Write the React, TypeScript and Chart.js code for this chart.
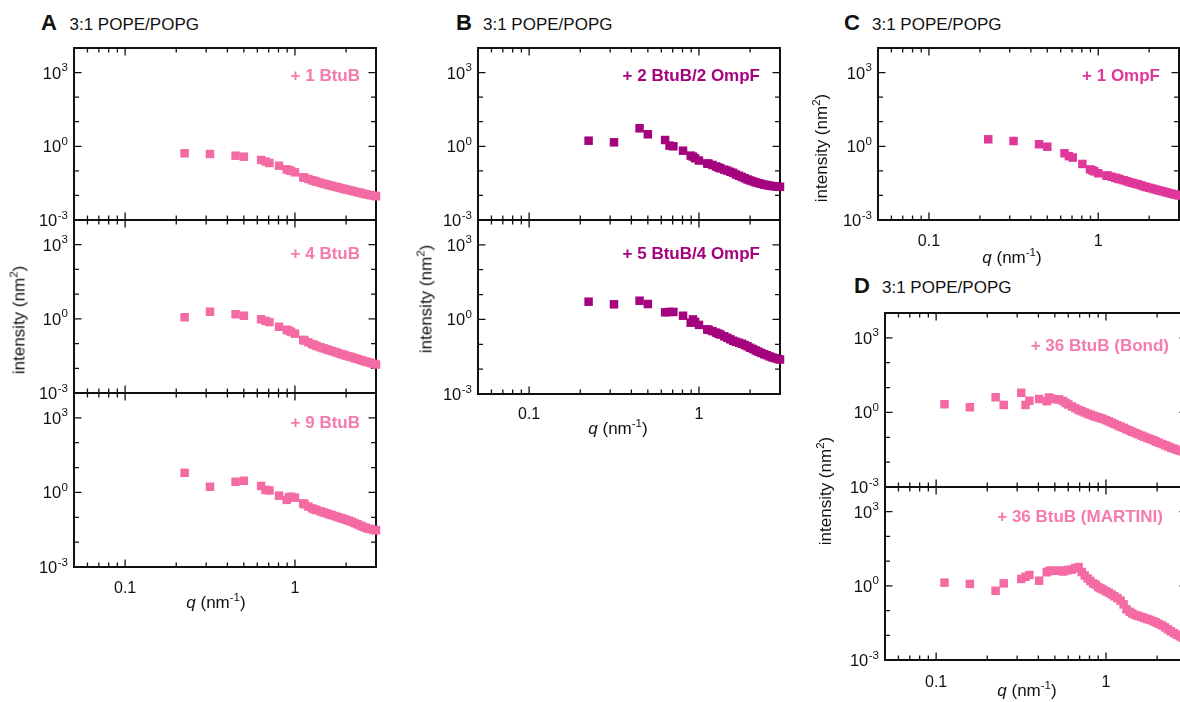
import React, { useEffect, useRef } from "react";
import { Chart, registerables } from "chart.js";

Chart.register(...registerables);

const FONT = "'Liberation Sans', Arial, Helvetica, sans-serif";

// q values (nm^-1) for the 3:1 POPE/POPG small-box systems (panels A, B, C)
const Q_ABC = [0.224, 0.316, 0.447, 0.5, 0.632, 0.671, 0.707, 0.806, 0.894, 0.922, 0.949, 1.0, 1.118, 1.14, 1.2, 1.26, 1.3, 1.34, 1.41, 1.47, 1.53, 1.59, 1.65, 1.72, 1.79, 1.86, 1.93, 2.0, 2.08, 2.16, 2.24, 2.33, 2.42, 2.51, 2.61, 2.71, 2.81, 2.92, 3.0];

// intensities (nm^2)
const I_A1 = [0.519, 0.485, 0.414, 0.377, 0.277, 0.24, 0.209, 0.162, 0.115, 0.107, 0.1, 0.087, 0.055, 0.0525, 0.0468, 0.0417, 0.0389, 0.0363, 0.0331, 0.0302, 0.0282, 0.0263, 0.0245, 0.0229, 0.0214, 0.02, 0.0186, 0.0174, 0.0166, 0.0155, 0.0145, 0.0135, 0.0129, 0.012, 0.0112, 0.0107, 0.0102, 0.0098, 0.0093];
const I_A2 = [1.16, 1.95, 1.53, 1.34, 0.96, 0.83, 0.74, 0.479, 0.363, 0.331, 0.295, 0.251, 0.141, 0.132, 0.112, 0.0955, 0.0891, 0.0794, 0.0708, 0.0646, 0.0589, 0.0537, 0.0501, 0.0457, 0.0417, 0.038, 0.0355, 0.0324, 0.0302, 0.0282, 0.0257, 0.024, 0.0219, 0.0204, 0.0186, 0.0174, 0.0162, 0.0151, 0.0141];
const I_A3 = [6.17, 1.7, 2.69, 2.95, 1.82, 1.26, 1.2, 0.741, 0.501, 0.631, 0.676, 0.617, 0.363, 0.331, 0.269, 0.229, 0.209, 0.195, 0.174, 0.158, 0.145, 0.132, 0.123, 0.112, 0.102, 0.0933, 0.0871, 0.0794, 0.0724, 0.0661, 0.0589, 0.0525, 0.0468, 0.0417, 0.038, 0.0347, 0.0331, 0.0309, 0.0302];
const I_B1 = [1.69, 1.45, 5.4, 3.08, 1.8, 1.06, 1.0, 0.661, 0.417, 0.38, 0.324, 0.263, 0.2, 0.195, 0.174, 0.151, 0.138, 0.126, 0.112, 0.102, 0.0912, 0.0832, 0.0708, 0.0631, 0.0562, 0.0501, 0.0447, 0.0407, 0.0372, 0.0339, 0.0316, 0.0295, 0.0275, 0.0263, 0.0251, 0.024, 0.0234, 0.0226, 0.0224];
const I_B2 = [5.16, 4.06, 5.66, 4.17, 1.93, 2.0, 2.0, 1.41, 0.741, 1.0, 0.794, 0.603, 0.398, 0.38, 0.339, 0.295, 0.269, 0.245, 0.209, 0.182, 0.158, 0.138, 0.126, 0.115, 0.105, 0.0933, 0.0832, 0.0724, 0.0646, 0.0562, 0.0501, 0.0447, 0.0398, 0.0363, 0.0324, 0.0295, 0.0275, 0.0257, 0.0245];
const I_C = [1.92, 1.64, 1.21, 0.962, 0.519, 0.398, 0.347, 0.191, 0.115, 0.105, 0.0955, 0.0794, 0.0646, 0.0631, 0.0575, 0.0525, 0.049, 0.0457, 0.0417, 0.038, 0.0347, 0.0324, 0.0302, 0.0282, 0.0257, 0.0234, 0.0219, 0.0204, 0.0191, 0.0178, 0.0166, 0.0155, 0.0145, 0.0135, 0.0126, 0.0117, 0.011, 0.0105, 0.01];

// q values for the large 36-BtuB systems (panel D)
const Q_D = [0.112, 0.158, 0.224, 0.25, 0.317, 0.336, 0.354, 0.404, 0.448, 0.462, 0.475, 0.5, 0.53, 0.56, 0.58, 0.6, 0.63, 0.66, 0.69, 0.72, 0.75, 0.78, 0.81, 0.84, 0.87, 0.9, 0.93, 0.96, 1.0, 1.04, 1.08, 1.12, 1.17, 1.22, 1.27, 1.32, 1.38, 1.43, 1.49, 1.55, 1.62, 1.68, 1.75, 1.82, 1.9, 1.97, 2.05, 2.14, 2.23, 2.32, 2.41, 2.51, 2.61, 2.72, 2.83, 2.94, 3.0];
const I_D1 = [2.14, 1.62, 4.07, 2.0, 6.17, 2.0, 2.95, 3.47, 2.82, 3.98, 3.63, 3.39, 3.31, 2.88, 2.4, 2.09, 1.74, 1.48, 1.26, 1.12, 1.0, 0.891, 0.813, 0.741, 0.676, 0.631, 0.589, 0.55, 0.49, 0.437, 0.389, 0.347, 0.302, 0.269, 0.24, 0.209, 0.186, 0.166, 0.148, 0.132, 0.117, 0.105, 0.0933, 0.0851, 0.0759, 0.0676, 0.0603, 0.0537, 0.0479, 0.0427, 0.038, 0.0347, 0.0316, 0.0288, 0.0269, 0.0251, 0.024];
const I_D2 = [1.35, 1.2, 0.631, 1.26, 1.91, 2.34, 2.75, 1.62, 3.55, 3.98, 4.17, 4.07, 4.17, 3.8, 4.17, 4.37, 4.57, 5.25, 5.75, 3.63, 2.63, 2.0, 1.58, 1.26, 1.12, 0.891, 0.794, 0.708, 0.603, 0.525, 0.447, 0.38, 0.316, 0.251, 0.178, 0.112, 0.0891, 0.0759, 0.0661, 0.0603, 0.055, 0.0501, 0.0457, 0.0417, 0.0372, 0.0331, 0.0288, 0.0251, 0.0209, 0.0174, 0.0145, 0.0123, 0.0105, 0.0091, 0.0079, 0.0071, 0.0066];

// axes
const X_MIN = 0.05;
const X_MAX = 3;
const Y_MIN = 1e-3;
const Y_MAX = 1e4;
const X_MAJOR = [0.1, 1];
const X_TICK_LABELS = ["0.1", "1"];
const X_MINOR = [0.06, 0.07, 0.08, 0.09, 0.2, 0.3, 0.4, 0.5, 0.6, 0.7, 0.8, 0.9, 2];
const Y_MAJOR = [1e-3, 1, 1e3];
const Y_EXP_LABELS = ["-3", "0", "3"];
const Y_MINOR = [1e-2, 1e-1, 10, 100];

// text
const HEADER = "3:1 POPE/POPG";
const SERIES_LABELS = ["+ 1 BtuB", "+ 4 BtuB", "+ 9 BtuB", "+ 2 BtuB/2 OmpF", "+ 5 BtuB/4 OmpF", "+ 1 OmpF", "+ 36 BtuB (Bond)", "+ 36 BtuB (MARTINI)"];

const PINK = "#F46AA3";
const PINK_TEXT = "#F57AAE";
const PURPLE = "#A5027E";
const MAGENTA = "#E0379A";

const ML = 52;
const MR = 14;
const MT = 10;
const MB = 36;

type Panel = {
  key: string;
  L: number; T: number; R: number; B: number;
  q: number[]; v: number[];
  color: string;
  showX: boolean;
  xLabDy: number;
};

const PANELS: Panel[] = [
  { key: "A1", L: 74, T: 48, R: 376, B: 220, q: Q_ABC, v: I_A1, color: PINK, showX: false, xLabDy: 25 },
  { key: "A2", L: 74, T: 220, R: 376, B: 393, q: Q_ABC, v: I_A2, color: PINK, showX: false, xLabDy: 25 },
  { key: "A3", L: 74, T: 393, R: 376, B: 567, q: Q_ABC, v: I_A3, color: PINK, showX: true, xLabDy: 25.5 },
  { key: "B1", L: 478, T: 48, R: 780, B: 220, q: Q_ABC, v: I_B1, color: PURPLE, showX: false, xLabDy: 25 },
  { key: "B2", L: 478, T: 220, R: 780, B: 394, q: Q_ABC, v: I_B2, color: PURPLE, showX: true, xLabDy: 25 },
  { key: "C", L: 878, T: 48, R: 1179, B: 220, q: Q_ABC, v: I_C, color: MAGENTA, showX: true, xLabDy: 26 },
  { key: "D1", L: 885, T: 313, R: 1187, B: 487, q: Q_D, v: I_D1, color: PINK, showX: false, xLabDy: 27 },
  { key: "D2", L: 885, T: 487, R: 1187, B: 660, q: Q_D, v: I_D2, color: PINK, showX: true, xLabDy: 27 },
];

function makeFramePlugin(showX: boolean, xLabDy: number) {
  return {
    id: "frameTicks",
    beforeDatasetsDraw(chart: any) {
      const { ctx, chartArea: a, scales } = chart;
      const xs = scales.x;
      const ys = scales.y;
      ctx.save();
      ctx.strokeStyle = "#111";
      ctx.lineWidth = 1.3;
      ctx.beginPath();
      const xt = (v: number, len: number) => {
        const p = xs.getPixelForValue(v);
        ctx.moveTo(p, a.bottom);
        ctx.lineTo(p, a.bottom - len);
        ctx.moveTo(p, a.top);
        ctx.lineTo(p, a.top + len);
      };
      const yt = (v: number, len: number) => {
        const p = ys.getPixelForValue(v);
        ctx.moveTo(a.left, p);
        ctx.lineTo(a.left + len, p);
        ctx.moveTo(a.right, p);
        ctx.lineTo(a.right - len, p);
      };
      X_MAJOR.forEach((v) => xt(v, 7.5));
      X_MINOR.forEach((v) => xt(v, 4.5));
      Y_MAJOR.forEach((v) => yt(v, 7.5));
      Y_MINOR.forEach((v) => yt(v, 5));
      ctx.stroke();
      ctx.lineWidth = 2;
      ctx.strokeRect(a.left, a.top, a.right - a.left, a.bottom - a.top);

      ctx.fillStyle = "#111";
      ctx.textBaseline = "alphabetic";
      ctx.textAlign = "left";
      Y_MAJOR.forEach((v, i) => {
        const p = ys.getPixelForValue(v);
        const exp = Y_EXP_LABELS[i];
        ctx.font = `11.5px ${FONT}`;
        const ew = ctx.measureText(exp).width;
        ctx.font = `16.5px ${FONT}`;
        const tw = ctx.measureText("10").width;
        const xr = a.left - 6;
        ctx.fillText("10", xr - ew - tw - 0.5, p + 6);
        ctx.font = `11.5px ${FONT}`;
        ctx.fillText(exp, xr - ew, p - 1.5);
      });
      if (showX) {
        ctx.font = `16px ${FONT}`;
        ctx.textAlign = "center";
        X_MAJOR.forEach((v, i) => {
          ctx.fillText(X_TICK_LABELS[i], xs.getPixelForValue(v), a.bottom + xLabDy);
        });
      }
      ctx.restore();
    },
  };
}

function PanelChart({ p }: { p: Panel }) {
  const ref = useRef<HTMLCanvasElement>(null);
  const w = p.R - p.L + ML + MR;
  const h = p.B - p.T + MT + MB;
  useEffect(() => {
    if (!ref.current) return;
    const chart = new Chart(ref.current, {
      type: "scatter",
      data: {
        datasets: [
          {
            data: p.q.map((x, i) => ({ x, y: p.v[i] })),
            pointStyle: "rect",
            pointRadius: 6,
            pointHoverRadius: 6,
            backgroundColor: p.color,
            borderWidth: 0,
            clip: false as any,
          },
        ],
      },
      options: {
        animation: false,
        responsive: false,
        maintainAspectRatio: false,
        devicePixelRatio: 1,
        events: [],
        layout: { padding: { left: ML, right: MR, top: MT, bottom: MB } },
        scales: {
          x: { type: "logarithmic", min: X_MIN, max: X_MAX, display: false },
          y: { type: "logarithmic", min: Y_MIN, max: Y_MAX, display: false },
        },
        plugins: {
          legend: { display: false },
          tooltip: { enabled: false },
          title: { display: false },
        },
      },
      plugins: [makeFramePlugin(p.showX, p.xLabDy)],
    } as any);
    return () => chart.destroy();
  }, []);
  return (
    <canvas
      ref={ref}
      width={w}
      height={h}
      style={{ position: "absolute", left: p.L - ML, top: p.T - MT, width: w, height: h }}
    />
  );
}

function Baseline({ x, y, size, bold, color, children }: any) {
  return (
    <div
      style={{
        position: "absolute",
        left: x,
        top: y - 0.8465 * size,
        fontSize: size,
        lineHeight: `${size}px`,
        fontWeight: bold ? 700 : 400,
        color: color || "#111",
        whiteSpace: "nowrap",
      }}
    >
      {children}
    </div>
  );
}

function RightLabel({ right, cy, color, children }: any) {
  return (
    <div
      style={{
        position: "absolute",
        left: right,
        top: cy,
        transform: "translate(-100%, -50%)",
        fontSize: 17,
        lineHeight: "17px",
        fontWeight: 700,
        color,
        whiteSpace: "nowrap",
      }}
    >
      {children}
    </div>
  );
}

function XTitle({ cx, cy }: any) {
  return (
    <div
      style={{
        position: "absolute",
        left: cx,
        top: cy,
        transform: "translate(-50%, -50%)",
        fontSize: 17,
        lineHeight: "17px",
        color: "#111",
        whiteSpace: "nowrap",
      }}
    >
      <i>q</i> (nm<span style={{ fontSize: 11.5, position: "relative", top: -7 }}>-1</span>)
    </div>
  );
}

function YTitle({ cx, cy }: any) {
  return (
    <div
      style={{
        position: "absolute",
        left: cx,
        top: cy,
        transform: "translate(-50%, -50%) rotate(-90deg)",
        fontSize: 17,
        lineHeight: "17px",
        color: "#111",
        whiteSpace: "nowrap",
      }}
    >
      intensity (nm<span style={{ fontSize: 11.5, position: "relative", top: -7 }}>2</span>)
    </div>
  );
}

function Header({ letterX, textX, y, letter }: any) {
  return (
    <>
      <Baseline x={letterX} y={y} size={22} bold>
        {letter}
      </Baseline>
      <Baseline x={textX} y={y - 0.5} size={17}>
        {HEADER}
      </Baseline>
    </>
  );
}

export default function App() {
  return (
    <div
      style={{
        position: "fixed",
        left: 0,
        top: 0,
        width: 1180,
        height: 702,
        overflow: "hidden",
        background: "#ffffff",
        fontFamily: FONT,
      }}
    >
      {PANELS.map((p) => (
        <PanelChart key={p.key} p={p} />
      ))}

      <Header letter="A" letterX={41} textX={69.5} y={31} />
      <Header letter="B" letterX={456} textX={483} y={31} />
      <Header letter="C" letterX={844} textX={872} y={31} />
      <Header letter="D" letterX={854} textX={882} y={294} />

      <RightLabel right={360} cy={74.5} color={PINK_TEXT}>{SERIES_LABELS[0]}</RightLabel>
      <RightLabel right={360} cy={252.5} color={PINK_TEXT}>{SERIES_LABELS[1]}</RightLabel>
      <RightLabel right={360} cy={421.5} color={PINK_TEXT}>{SERIES_LABELS[2]}</RightLabel>
      <RightLabel right={760} cy={75} color={PURPLE}>{SERIES_LABELS[3]}</RightLabel>
      <RightLabel right={760} cy={252.5} color={PURPLE}>{SERIES_LABELS[4]}</RightLabel>
      <RightLabel right={1160} cy={75} color={MAGENTA}>{SERIES_LABELS[5]}</RightLabel>
      <RightLabel right={1169} cy={345} color={PINK_TEXT}>{SERIES_LABELS[6]}</RightLabel>
      <RightLabel right={1163} cy={515.5} color={PINK_TEXT}>{SERIES_LABELS[7]}</RightLabel>

      <XTitle cx={216} cy={603} />
      <XTitle cx={618} cy={429} />
      <XTitle cx={1012} cy={258} />
      <XTitle cx={1027} cy={691} />

      <YTitle cx={20} cy={320} />
      <YTitle cx={427} cy={299} />
      <YTitle cx={822} cy={148} />
      <YTitle cx={826} cy={491} />
    </div>
  );
}
